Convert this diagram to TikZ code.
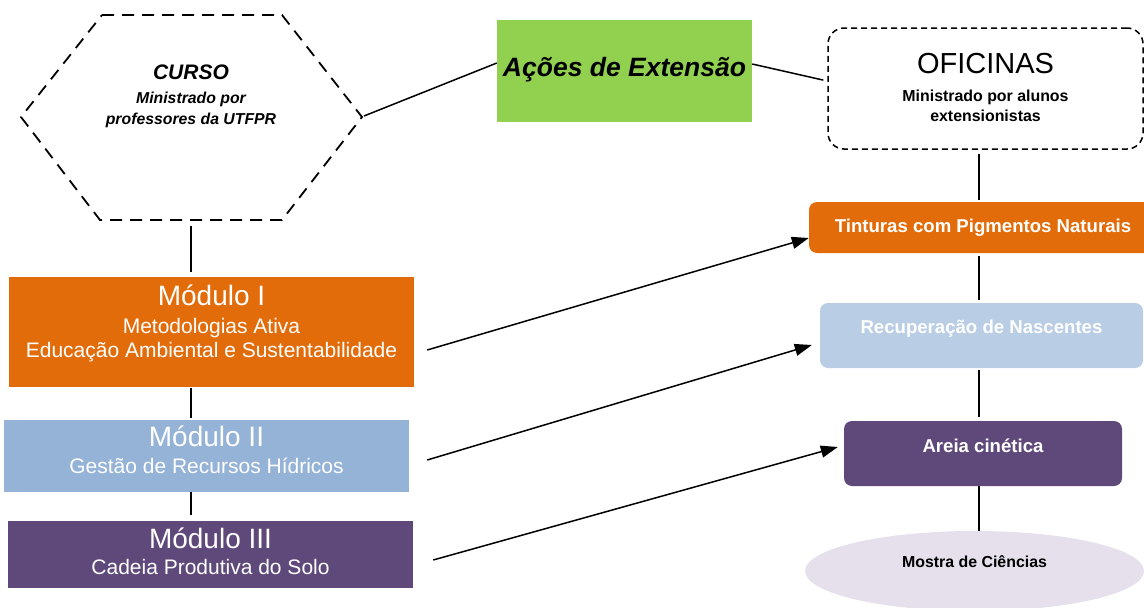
\documentclass[tikz,border=0pt]{standalone}
\usepackage{fontspec}
\setmainfont{Liberation Sans}
\usetikzlibrary{arrows.meta, positioning, shapes.geometric}

\definecolor{laranja}{HTML}{E36C0A}
\definecolor{azulmodulo}{HTML}{95B3D7}
\definecolor{azulclaro}{HTML}{B9CDE5}
\definecolor{roxo}{HTML}{5F497A}
\definecolor{verde}{HTML}{92D050}
\definecolor{lilas}{HTML}{E5E0EC}

\begin{document}
\begin{tikzpicture}[x=1pt, y=-1pt,
		modulo/.style={minimum width=405pt, inner sep=0pt},
		modulotxt/.style={text=white, align=center, inner sep=0pt, font=\fontsize{21}{24}\selectfont},
		oficina/.style={rounded corners=8pt, inner sep=0pt, text=white, font=\bfseries\fontsize{18.6}{22}\selectfont},
		ligacao/.style={line width=1.5pt},
		seta/.style={line width=1.5pt, -{Triangle[length=17pt,width=12pt]}}]
		\useasboundingbox (0,0) rectangle (1144,608);

		\draw[line width=1.8pt, dash pattern=on 12pt off 8pt] (102,15) -- (282,15) -- (362,117) -- (282,220) -- (100,220) -- (21,117) -- cycle;
		\coordinate (cursoR) at (364,116);
		\coordinate (cursoB) at (191,226);
		\coordinate (coluna) at (979,0);
		\node[align=center, inner sep=0pt, anchor=north, font=\bfseries\itshape\fontsize{15.8}{21}\selectfont] (curso) at (191,65)
		{{\fontsize{21}{24}\selectfont CURSO}\\[2.5pt] Ministrado por\\ professores da UTFPR};

		\node[fill=verde, minimum width=255pt, minimum height=102pt, inner sep=0pt, text height=20pt, text depth=10pt,
		font=\bfseries\itshape\fontsize{26.5}{30}\selectfont] (acoes) at (624.5,71) {Ações de Extensão};

		\node[draw, line width=1.5pt, dash pattern=on 6pt off 4pt, rounded corners=16pt, minimum width=315pt, minimum height=121pt] (oficinas) at (985.5,88.5) {};
		\node[align=center, inner sep=0pt, below=0pt of oficinas.north, yshift=-26pt, font=\bfseries\fontsize{15.9}{20}\selectfont] (oficinastxt)
		{{\mdseries\fontsize{29}{30}\selectfont OFICINAS}\\[8pt] Ministrado por alunos\\ extensionistas};

		\node[oficina, fill=laranja, minimum width=348pt, minimum height=51pt] (tinturas) at (983,227.5) {Tinturas com Pigmentos Naturais};
		\node[oficina, fill=azulclaro, minimum width=323pt, minimum height=65pt, text height=13pt, text depth=18pt] (nascentes) at (981.5,335.5) {Recuperação de Nascentes};
		\node[oficina, fill=roxo, minimum width=278pt, minimum height=65pt, text height=14pt, text depth=17pt] (areia) at (983,453.5) {Areia cinética};
		\node[ellipse, fill=lilas, minimum width=339pt, minimum height=80pt, inner sep=0pt, text height=11pt, text depth=19pt,
		font=\bfseries\fontsize{15.9}{18}\selectfont] (mostra) at (974.5,571) {Mostra de Ciências};

		\node[modulo, fill=laranja, minimum height=110pt] (modulo1) at (211.5,332) {};
		\node[modulotxt, below=7.5pt of modulo1.north] (modulo1txt)
		{{\fontsize{28}{30}\selectfont Módulo I}\\[4pt] Metodologias Ativa\\ Educação Ambiental e Sustentabilidade};
		\node[modulo, fill=azulmodulo, minimum height=72pt] (modulo2) at (206.5,456) {};
		\node[modulotxt, below=6pt of modulo2.north] (modulo2txt)
		{{\fontsize{28}{30}\selectfont Módulo II}\\[3pt] Gestão de Recursos Hídricos};
		\node[modulo, fill=roxo, minimum height=67pt] (modulo3) at (210.5,554.5) {};
		\node[modulotxt, below=6.5pt of modulo3.north] (modulo3txt)
		{{\fontsize{28}{30}\selectfont Módulo III}\\[2.5pt] Cadeia Produtiva do Solo};

		\draw[ligacao] (cursoR) -- ([yshift=8pt]acoes.west);
		\draw[ligacao, shorten >=4pt] ([yshift=7pt]acoes.east) -- ([yshift=7.5pt]oficinas.west);
		\draw[ligacao, shorten >=5pt] (cursoB) -- (cursoB |- modulo1.north);
		\draw[ligacao, shorten <=1pt, shorten >=2pt] (modulo1.south -| cursoB) -- (modulo2.north -| cursoB);
		\draw[ligacao, shorten >=6pt] (modulo2.south -| cursoB) -- (modulo3.north -| cursoB);
		\draw[ligacao, shorten <=4pt, shorten >=2pt] (oficinas.south -| coluna) -- (tinturas.north -| coluna);
		\draw[ligacao, shorten <=3pt, shorten >=3pt] (tinturas.south -| coluna) -- (nascentes.north -| coluna);
		\draw[ligacao, shorten <=2pt, shorten >=4pt] (nascentes.south -| coluna) -- (areia.north -| coluna);
		\draw[ligacao] (areia.south -| coluna) -- (mostra.north -| coluna);

		\draw[seta] ([xshift=13pt,yshift=-18pt]modulo1.east) -- ([yshift=-10.5pt]tinturas.west);
		\draw[seta] ([xshift=18pt,yshift=-4pt]modulo2.east) -- ([xshift=-8pt,yshift=-9.5pt]nascentes.west);
		\draw[seta] ([xshift=20pt,yshift=-5.5pt]modulo3.east) -- ([xshift=-6pt,yshift=6.5pt]areia.west);
	\end{tikzpicture}
\end{document}
